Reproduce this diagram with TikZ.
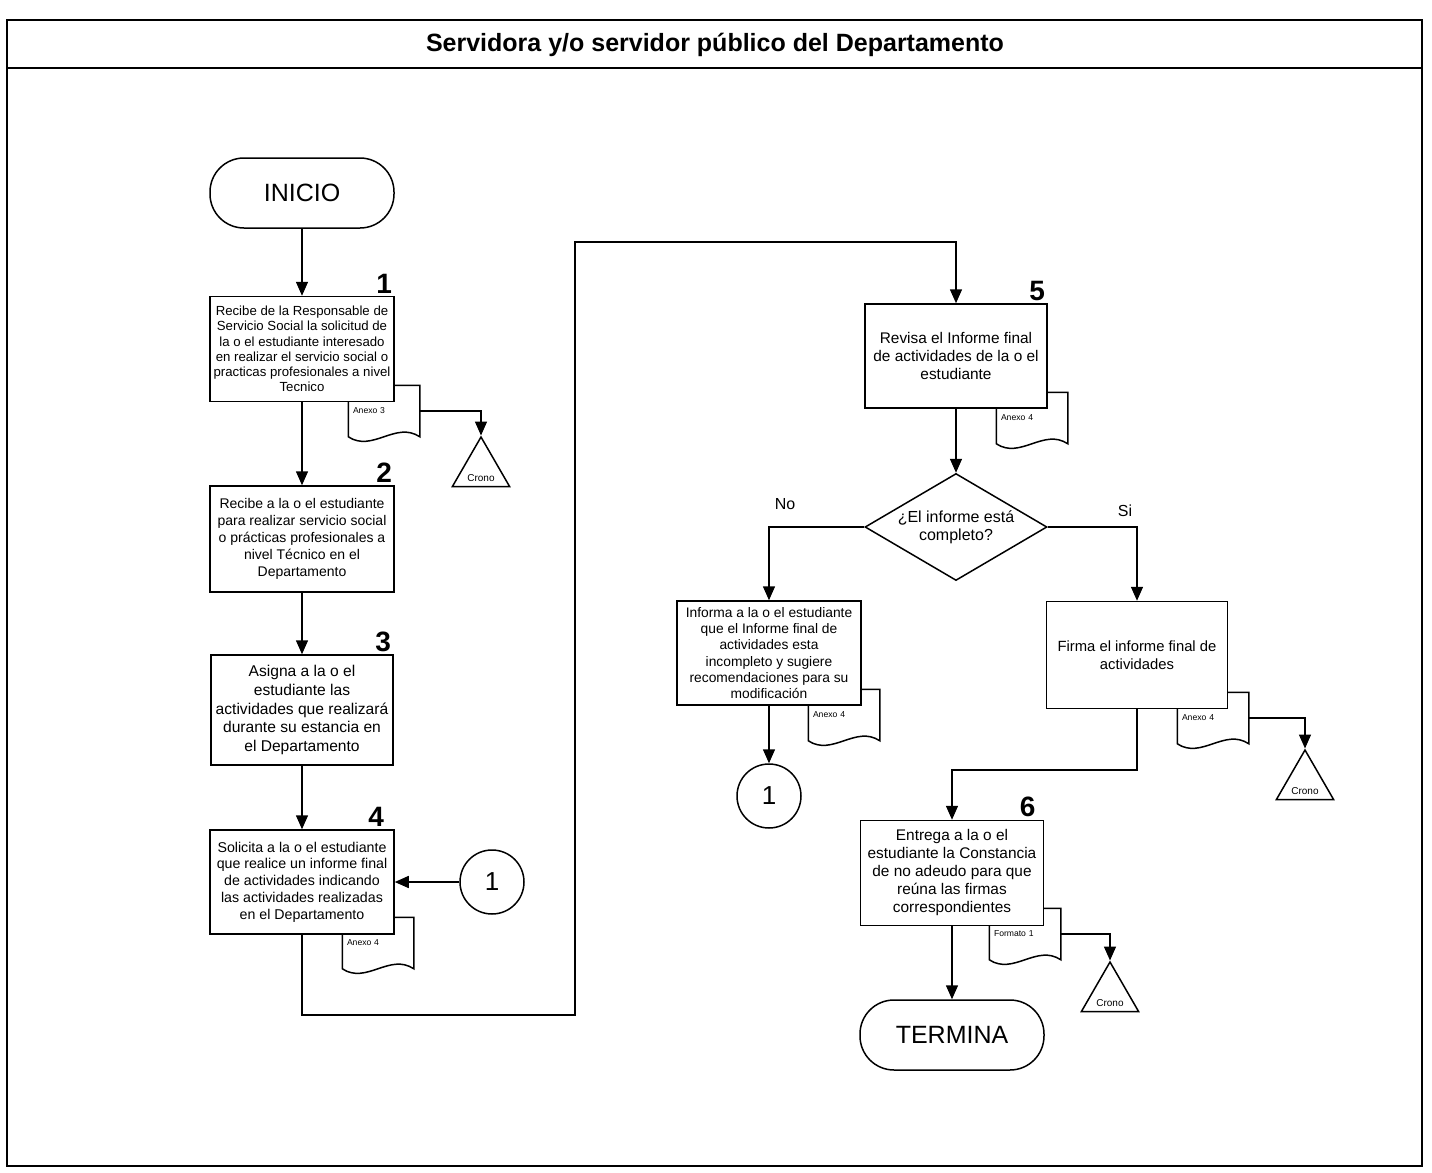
\documentclass[tikz,border=0pt]{standalone}
\usepackage{fontspec}
\setmainfont{Liberation Sans}
\usetikzlibrary{shapes.geometric, arrows.meta, positioning, calc}

\begin{document}
\begin{tikzpicture}[x=0.5pt, y=-0.5pt, >={Triangle[width=6pt,length=7pt]}, line width=0.75pt,
	box/.style={draw, fill=white, align=center, inner sep=1pt, minimum width=92pt, minimum height=53pt, font=\fontsize{7}{8.5}\selectfont},
	term/.style={draw, fill=white, rounded corners=17pt, minimum width=92pt, minimum height=35pt, font=\fontsize{12.5}{14}\selectfont},
	conn/.style={draw, circle, minimum size=32pt, inner sep=0pt, font=\fontsize{13}{14}\selectfont},
	crono/.style={draw, regular polygon, regular polygon sides=3, minimum size=33pt, inner sep=0pt,
		label={[font=\fontsize{5}{5}\selectfont, anchor=south, inner sep=2.5pt]south:Crono}},
	doc/.style={minimum width=35pt, minimum height=25pt, text width=31pt, align=left, inner xsep=2pt, inner ysep=0pt, font=\fontsize{4.3}{5}\selectfont},
	dec/.style={draw, fill=white, diamond, aspect=1.7, minimum width=91pt, minimum height=53.5pt, inner sep=0pt, align=center, font=\fontsize{8}{9}\selectfont},
	num/.style={font=\bfseries\fontsize{14}{14}\selectfont, anchor=south east, inner sep=1pt},
	flow/.style={->, line width=0.75pt}]
	
	\useasboundingbox (0,0) rectangle (1432,1173);
	
	% Frame and title
	\draw[line width=1pt] (7,20) rectangle (1422,1166);
	\draw[line width=1pt] (7,68) -- (1422,68);
	\node[font=\bfseries\fontsize{12.5}{14}\selectfont] (title) at (715,45) {Servidora y/o servidor público del Departamento};
	
	% Documents (behind the boxes)
	\node[doc] (d1) at (384,411) {Anexo 3};
	\node[doc] (d4) at (378,943) {Anexo 4};
	\node[doc] (d5) at (1032,418) {Anexo 4};
	\node[doc] (dno) at (844,715) {Anexo 4};
	\node[doc] (dsi) at (1213,718) {Anexo 4};
	\node[doc] (d6) at (1025,934) {Formato 1};
	\foreach \d in {d1,d4,d5,dno,dsi,d6}
		\draw (\d.north west) -- (\d.north east) -- (\d.south east)
			.. controls +(-12pt,8pt) and +(12pt,-8pt) .. (\d.south west) -- cycle;
	
	% Left column
	\node[term] (inicio) at (302,193) {INICIO};
	\node[box, font=\fontsize{6.6}{7.6}\selectfont, minimum height=52.5pt, label={[num]north east:1}] (b1) at (302,349)
		{Recibe de la Responsable de\\Servicio Social la solicitud de\\la o el estudiante interesado\\en realizar el servicio social o\\practicas profesionales a nivel\\Tecnico};
	\node[box, label={[num]north east:2}] (b2) at (302,539)
		{Recibe a la o el estudiante\\para realizar servicio social\\o prácticas profesionales a\\nivel Técnico en el\\Departamento};
	\node[box, font=\fontsize{7.8}{9.4}\selectfont, minimum width=91pt, minimum height=55pt, label={[num]north east:3}] (b3) at (302,710)
		{Asigna a la o el\\estudiante las\\actividades que realizará\\durante su estancia en\\el Departamento};
	\node[box, font=\fontsize{7.1}{8.4}\selectfont, minimum height=52pt, label={[num, xshift=-4pt]north east:4}] (b4) at (302,882)
		{Solicita a la o el estudiante\\que realice un informe final\\de actividades indicando\\las actividades realizadas\\en el Departamento};
	\node[conn] (con1) at (492,882) {1};
	
	% Right part
	\node[box, font=\fontsize{7.7}{9}\selectfont, minimum width=91pt, minimum height=52pt, label={[num]north east:5}] (b5) at (956,356)
		{Revisa el Informe final\\de actividades de la o el\\estudiante};
	\node[dec] (dec) at (956,527) {¿El informe está\\completo?};
	\node[box, font=\fontsize{6.9}{8.1}\selectfont, inner sep=0pt, minimum height=52pt] (bno) at (769,653)
		{Informa a la o el estudiante\\que el Informe final de\\actividades esta\\incompleto y sugiere\\recomendaciones para su\\modificación};
	\node[box, font=\fontsize{7.4}{9}\selectfont, minimum width=90.5pt, minimum height=53.5pt] (bsi) at (1137,655)
		{Firma el informe final de\\actividades};
	\node[conn] (con2) at (769,796) {1};
	\node[box, font=\fontsize{7.7}{9}\selectfont, minimum width=91.5pt, minimum height=52.5pt, label={[num, xshift=-3pt]north east:6}] (b6) at (952,873)
		{Entrega a la o el\\estudiante la Constancia\\de no adeudo para que\\reúna las firmas\\correspondientes};
	\node[term] (termina) at (952,1035) {TERMINA};
	
	% Crono triangles
	\node[crono] (cr1) at (481,470) {};
	\node[crono] (cr2) at (1305,783) {};
	\node[crono] (cr3) at (1110,995) {};
	
	\node[font=\fontsize{8}{9}\selectfont] (no) at (785,504) {No};
	\node[font=\fontsize{8}{9}\selectfont] (si) at (1125,511) {Si};
	
	\coordinate (lo) at (575,1015);
	\coordinate (hi) at (575,242);
	\coordinate (jn) at (952,770);
	
	% Connectors
	\draw[flow] (inicio.south) -- (b1.north);
	\draw[flow] (b1.south) -- (b2.north);
	\draw[flow] (b2.south) -- (b3.north);
	\draw[flow] (b3.south) -- (b4.north);
	\draw[flow] (con1.west) -- (b4.east);
	\draw[flow] (b4.south) |- (lo) -- (hi) -| (b5.north);
	\draw[flow] (b5.south) -- (dec.north);
	\draw[flow] (dec.west) -| (bno.north);
	\draw[flow] (dec.east) -| (bsi.north);
	\draw[flow] (bno.south) -- (con2.north);
	\draw[flow] (bsi.south) |- (jn) -- (b6.north);
	\draw[flow] (b6.south) -- (termina.north);
	\draw[flow] (d1.east) -| (cr1.north);
	\draw[flow] (dsi.east) -| (cr2.north);
	\draw[flow] (d6.east) -| (cr3.north);
	
\end{tikzpicture}
\end{document}
